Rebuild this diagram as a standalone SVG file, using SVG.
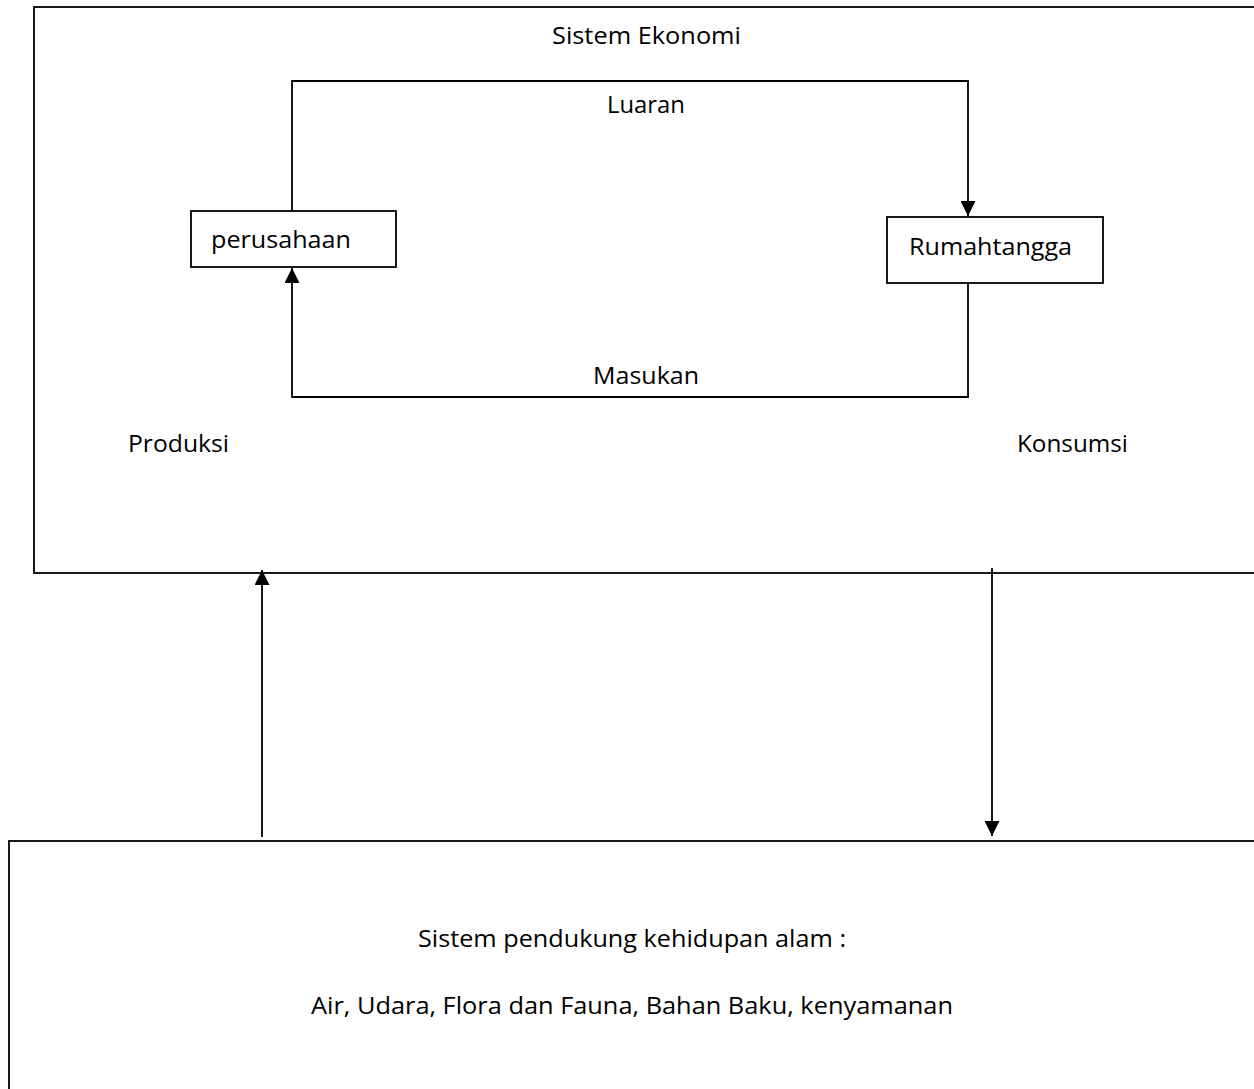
<svg xmlns="http://www.w3.org/2000/svg" width="1254" height="1089" viewBox="0 0 1254 1089">
<style>
.box{fill:none;stroke:#000;stroke-width:1.8}
.ln{fill:none;stroke:#000;stroke-width:1.8}
text{font-family:"Open Sans","Liberation Sans",sans-serif;font-size:23px;fill:#000}
</style>
<defs>
<marker id="ah" viewBox="0 0 10 10" refX="10" refY="5" markerWidth="16" markerHeight="15" markerUnits="userSpaceOnUse" orient="auto">
<path d="M0,0 L10,5 L0,10 z" fill="#000"/>
</marker>
</defs>
<rect width="1254" height="1089" fill="#fff"/>
<g id="sistem-ekonomi">
<rect class="box" x="34" y="7" width="1240" height="566"/>
<text x="552" y="44" textLength="189" lengthAdjust="spacingAndGlyphs">Sistem Ekonomi</text>
<text x="128" y="452" textLength="101" lengthAdjust="spacingAndGlyphs">Produksi</text>
<text x="1017" y="452" textLength="111" lengthAdjust="spacingAndGlyphs">Konsumsi</text>
</g>
<g id="perusahaan">
<rect class="box" x="191" y="211" width="205" height="56"/>
<text x="211" y="248" textLength="140" lengthAdjust="spacingAndGlyphs">perusahaan</text>
</g>
<g id="rumahtangga">
<rect class="box" x="887" y="217" width="216" height="66"/>
<text x="909" y="255" textLength="163" lengthAdjust="spacingAndGlyphs">Rumahtangga</text>
</g>
<g id="alam">
<rect class="box" x="9" y="841" width="1265" height="270"/>
<text x="418" y="947" textLength="428" lengthAdjust="spacingAndGlyphs">Sistem pendukung kehidupan alam :</text>
<text x="311" y="1014" textLength="642" lengthAdjust="spacingAndGlyphs">Air, Udara, Flora dan Fauna, Bahan Baku, kenyamanan</text>
</g>
<g id="connectors">
<path class="ln" d="M292,211 L292,81 L968,81 L968,216" marker-end="url(#ah)"/>
<text x="607" y="113" textLength="78" lengthAdjust="spacingAndGlyphs">Luaran</text>
<path class="ln" d="M968,283 L968,397 L292,397 L292,268" marker-end="url(#ah)"/>
<text x="593" y="384" textLength="106" lengthAdjust="spacingAndGlyphs">Masukan</text>
<path class="ln" d="M262,837 L262,570" marker-end="url(#ah)"/>
<path class="ln" d="M992,568 L992,836" marker-end="url(#ah)"/>
</g>
</svg>
